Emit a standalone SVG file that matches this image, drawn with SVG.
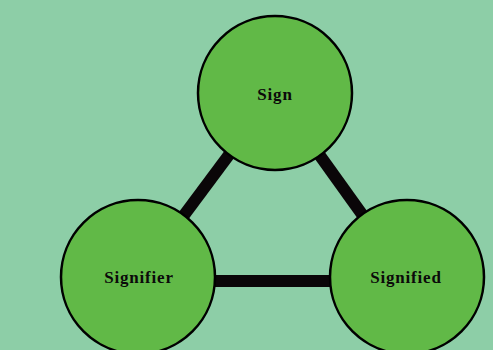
<svg xmlns="http://www.w3.org/2000/svg" width="493" height="350" viewBox="0 0 493 350">
  <style>
    .node circle { fill: #61b947; stroke: #000000; stroke-width: 2.5; }
    .node text { font-family: "Liberation Serif", "DejaVu Serif", serif; font-weight: bold; font-size: 17px; letter-spacing: 0.8px; fill: #0b0a0a; text-anchor: middle; }
    .conn line { stroke: #0a0608; stroke-width: 12; }
  </style>
  <rect x="0" y="0" width="493" height="350" fill="#8dcea7"/>
  <g id="connectors" class="conn">
    <line x1="275" y1="93" x2="138" y2="277"/>
    <line x1="275" y1="93" x2="407" y2="277"/>
    <line x1="138" y1="281" x2="407" y2="281"/>
  </g>
  <g id="sign" class="node">
    <circle cx="275" cy="93" r="77"/>
    <text x="275" y="100">Sign</text>
  </g>
  <g id="signifier" class="node">
    <circle cx="138" cy="277" r="77"/>
    <text x="139" y="283">Signifier</text>
  </g>
  <g id="signified" class="node">
    <circle cx="407" cy="277" r="77"/>
    <text x="406" y="283">Signified</text>
  </g>
</svg>
